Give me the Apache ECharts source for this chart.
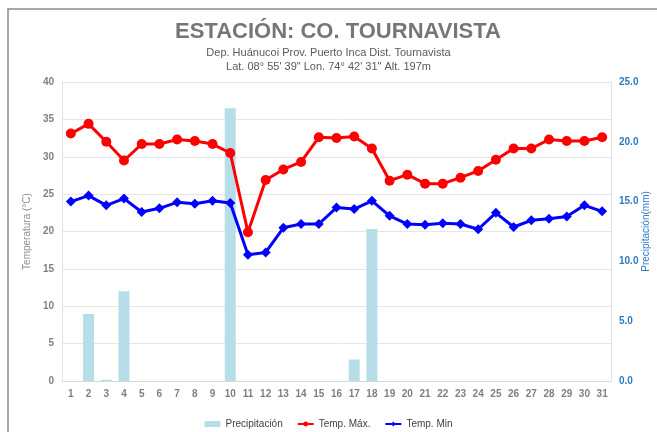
<!DOCTYPE html>
<html>
<head>
<meta charset="utf-8">
<script src="https://cdn.jsdelivr.net/npm/echarts@6/dist/echarts.min.js"></script>
<style>
html, body { margin: 0; padding: 0; background: #fff; }
#main { width: 657px; height: 432px; }
</style>
</head>
<body>
<div id="main"></div>
<script>
var dias = ['1','2','3','4','5','6','7','8','9','10','11','12','13','14','15','16','17','18','19','20','21','22','23','24','25','26','27','28','29','30','31']
var precipitacion = [0, 5.6, 0.1, 7.5, 0, 0, 0, 0, 0, 22.8, 0, 0, 0, 0, 0, 0, 1.8, 12.7, 0, 0, 0, 0, 0, 0, 0, 0, 0, 0, 0, 0, 0]
var tempMax = [33.1, 34.4, 32.0, 29.5, 31.7, 31.7, 32.3, 32.1, 31.7, 30.5, 19.9, 26.9, 28.3, 29.3, 32.6, 32.5, 32.7, 31.1, 26.8, 27.6, 26.4, 26.4, 27.2, 28.1, 29.6, 31.1, 31.1, 32.3, 32.1, 32.1, 32.6]
var tempMin = [24.0, 24.8, 23.5, 24.4, 22.6, 23.1, 23.9, 23.7, 24.1, 23.8, 16.9, 17.2, 20.5, 21.0, 21.0, 23.2, 23.0, 24.1, 22.1, 21.0, 20.9, 21.1, 21.0, 20.3, 22.5, 20.6, 21.5, 21.7, 22.0, 23.5, 22.7]

var myChart = echarts.init(document.getElementById('main'))

var options = {
    textStyle: { fontFamily: 'Arial, Liberation Sans, sans-serif' },
    // marco
    graphic: [{
        type: 'rect',
        shape: { x: 8, y: 9, width: 700, height: 500 },
        style: { fill: 'none', stroke: '#8a8a8a', lineWidth: 1.5 },
        silent: true
    }],
    // titulo
    title: [{
        text: 'ESTACIÓN: CO. TOURNAVISTA',
        left: 170,
        top: 16,
        textStyle: { fontSize: 22, fontWeight: 'bold', color: '#767676' }
    }, {
        text: 'Dep. Huánucoi Prov. Puerto Inca Dist. Tournavista\nLat. 08° 55\' 39" Lon. 74° 42\' 31" Alt. 197m',
        left: 'center',
        top: 41,
        textStyle: { fontSize: 11, fontWeight: 'normal', color: '#595959', lineHeight: 14 }
    }],
    legend: {
        top: 414,
        left: 'center',
        itemWidth: 16,
        itemHeight: 6,
        itemGap: 14,
        textStyle: { fontSize: 10, color: '#404040' },
        data: ['Precipitación', 'Temp. Máx.', 'Temp. Min']
    },
    grid: { left: 62, right: 46, top: 82, bottom: 51, outerBoundsMode: 'none' },
    xAxis: {
        type: 'category',
        data: dias,
        axisTick: { show: false },
        axisLine: { lineStyle: { color: '#d9d9d9' } },
        axisLabel: { color: '#7f7f7f', fontSize: 10, fontWeight: 'bold', margin: 8 }
    },
    yAxis: [{
        type: 'value',
        min: 0,
        max: 40,
        interval: 5,
        name: 'Temperatura (°C)',
        nameLocation: 'middle',
        nameGap: 30,
        nameMoveOverlap: false,
        nameTextStyle: { color: '#8c8c8c', fontSize: 10 },
        axisLine: { show: true, lineStyle: { color: '#e3e3e3' } },
        axisLabel: { color: '#7f7f7f', fontSize: 10, fontWeight: 'bold' },
        splitLine: { lineStyle: { color: '#e6e6e6' } }
    }, {
        type: 'value',
        min: 0,
        max: 25,
        interval: 5,
        name: 'Precipitación(mm)',
        nameLocation: 'middle',
        nameGap: 30,
        nameMoveOverlap: false,
        nameTextStyle: { color: '#2e7bc4', fontSize: 10 },
        axisLine: { show: true, lineStyle: { color: '#e3e3e3' } },
        axisLabel: { color: '#2e7bc4', fontSize: 10, fontWeight: 'bold', formatter: function (v) { return v.toFixed(1) }, margin: 8 },
        splitLine: { show: false }
    }],
    series: [{
        name: 'Precipitación',
        type: 'bar',
        yAxisIndex: 1,
        barWidth: '62%',
        itemStyle: { color: '#b7dde8' },
        data: precipitacion
    }, {
        name: 'Temp. Máx.',
        type: 'line',
        symbol: 'circle',
        symbolSize: 10,
        lineStyle: { color: '#ff0000', width: 3 },
        itemStyle: { color: '#ff0000' },
        data: tempMax
    }, {
        name: 'Temp. Min',
        type: 'line',
        symbol: 'diamond',
        symbolSize: 10,
        lineStyle: { color: '#0000ff', width: 3 },
        itemStyle: { color: '#0000ff' },
        data: tempMin
    }]
}

myChart.setOption(options)
</script>
</body>
</html>
